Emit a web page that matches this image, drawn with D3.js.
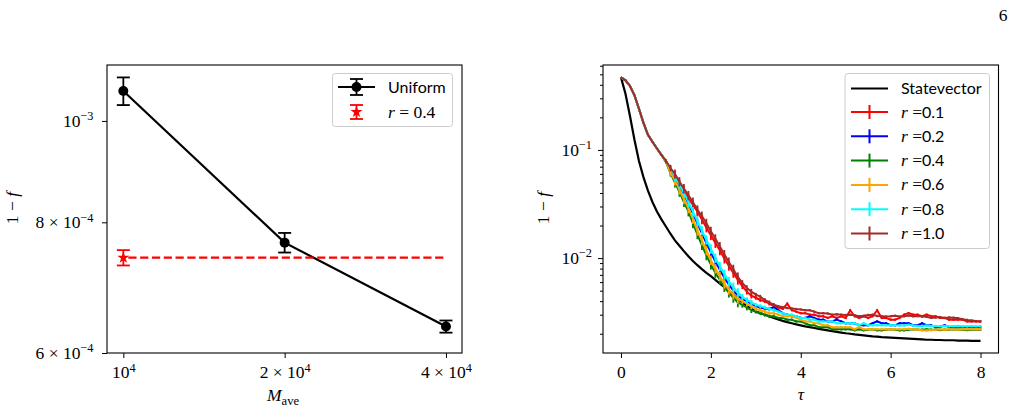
<!DOCTYPE html>
<html>
<head>
<meta charset="utf-8">
<script src="https://cdn.jsdelivr.net/npm/d3@7"></script>
<style>
  body { margin: 0; background: #fff; }
</style>
</head>
<body>
<svg id="chart" width="1017" height="409"></svg>
<script>
// ---- left panel data ----
const mAve = [1e4, 2e4, 4e4];
const uniformFid = [1.068e-3, 7.65e-4, 6.36e-4];
const uniformErr = [3.25e-5, 1.65e-5, 8.5e-6];
const r04X = [1e4];
const r04Fid = [7.40e-4];
const r04Err = [1.25e-5];
const r04LineX = [1e4, 4e4];

const xLeftTicks = [1e4, 2e4, 4e4];
const xLeftLabels = [['10', '4'], ['2 × 10', '4'], ['4 × 10', '4']];
const yLeftTicks = [6e-4, 8e-4, 1e-3];
const yLeftLabels = [['6 × 10', '−4'], ['8 × 10', '−4'], ['10', '−3']];

// ---- right panel data ----
const tau = [0, 0.1, 0.2, 0.3, 0.4, 0.5, 0.6, 0.7, 0.8, 0.9,
  1, 1.1, 1.2, 1.3, 1.4, 1.5, 1.6, 1.7, 1.8, 1.9,
  2, 2.1, 2.2, 2.3, 2.4, 2.5, 2.6, 2.7, 2.8, 2.9,
  3, 3.1, 3.2, 3.3, 3.4, 3.5, 3.6, 3.7, 3.8, 3.9,
  4, 4.1, 4.2, 4.3, 4.4, 4.5, 4.6, 4.7, 4.8, 4.9,
  5, 5.1, 5.2, 5.3, 5.4, 5.5, 5.6, 5.7, 5.8, 5.9,
  6, 6.1, 6.2, 6.3, 6.4, 6.5, 6.6, 6.7, 6.8, 6.9,
  7, 7.1, 7.2, 7.3, 7.4, 7.5, 7.6, 7.7, 7.8, 7.9, 8];

const stateVec = [0.468, 0.33, 0.206, 0.124, 0.079, 0.056, 0.042, 0.033, 0.027, 0.0228,
  0.0196, 0.0168, 0.0146, 0.0130, 0.0116, 0.0104, 0.0094, 0.0086, 0.0079, 0.0073,
  0.0068, 0.0063, 0.0058, 0.0054, 0.0050, 0.0046, 0.0042, 0.0039, 0.0036, 0.0034,
  0.0032, 0.0031, 0.0030, 0.0029, 0.0028, 0.00271, 0.00263, 0.00256, 0.0025, 0.00244,
  0.00239, 0.00234, 0.0023, 0.00226, 0.00222, 0.00218, 0.00215, 0.00211, 0.00208, 0.00205,
  0.00202, 0.002, 0.00197, 0.00195, 0.00193, 0.00191, 0.00189, 0.00188, 0.00186, 0.00185,
  0.00184, 0.00183, 0.00182, 0.00181, 0.0018, 0.00179, 0.00178, 0.00177, 0.00176, 0.00176,
  0.00175, 0.00175, 0.00174, 0.00174, 0.00174, 0.00173, 0.00173, 0.00173, 0.00172, 0.00172, 0.00172];

const r01 = [0.468, 0.44, 0.39, 0.32, 0.24, 0.178, 0.138, 0.119, 0.103, 0.090,
  0.079, 0.067, 0.058, 0.049, 0.042, 0.036, 0.031, 0.027, 0.0228, 0.0192,
  0.0163, 0.0138, 0.0118, 0.0099, 0.0085, 0.0073, 0.0063, 0.0055, 0.0049, 0.0045,
  0.0043, 0.0041, 0.0040, 0.0038, 0.0036, 0.0035, 0.0034, 0.0038, 0.0033, 0.0032,
  0.0031, 0.0031, 0.0030, 0.0030, 0.0029, 0.0029, 0.0028, 0.0029, 0.0028, 0.0029,
  0.0028, 0.0033, 0.0029, 0.0028, 0.0029, 0.0028, 0.0029, 0.0033, 0.0028, 0.0028,
  0.0027, 0.0027, 0.0028, 0.0030, 0.0031, 0.0030, 0.0030, 0.0029, 0.0030, 0.0029,
  0.0029, 0.0028, 0.0028, 0.0027, 0.0027, 0.0027, 0.0027, 0.0026, 0.0026, 0.0026, 0.0026];

const r02 = [0.468, 0.44, 0.39, 0.32, 0.24, 0.178, 0.138, 0.119, 0.103, 0.090,
  0.079, 0.066, 0.056, 0.047, 0.039, 0.032, 0.026, 0.021, 0.017, 0.0138,
  0.0113, 0.0093, 0.0078, 0.0066, 0.0057, 0.0050, 0.0045, 0.0042, 0.0040, 0.0038,
  0.0036, 0.0035, 0.0034, 0.0034, 0.0035, 0.0033, 0.0031, 0.0030, 0.0029, 0.0029,
  0.0028, 0.0028, 0.0029, 0.0028, 0.0027, 0.0027, 0.0026, 0.0026, 0.0027, 0.0026,
  0.0025, 0.0025, 0.0025, 0.0024, 0.0024, 0.0024, 0.0025, 0.0026, 0.0025, 0.0025,
  0.0024, 0.0024, 0.0025, 0.0025, 0.0025, 0.0024, 0.0024, 0.0025, 0.0024, 0.0024,
  0.0023, 0.0023, 0.0024, 0.0023, 0.0023, 0.0023, 0.0023, 0.0023, 0.0023, 0.0023, 0.0023];

const r04 = [0.468, 0.44, 0.39, 0.32, 0.24, 0.178, 0.138, 0.119, 0.103, 0.090,
  0.077, 0.061, 0.050, 0.041, 0.033, 0.027, 0.021, 0.0166, 0.0132, 0.0106,
  0.0087, 0.0073, 0.0063, 0.0054, 0.0048, 0.0043, 0.0039, 0.0037, 0.0035, 0.0033,
  0.0032, 0.0031, 0.0030, 0.0029, 0.0029, 0.0028, 0.0028, 0.0027, 0.0027, 0.0026,
  0.0026, 0.0025, 0.0024, 0.0024, 0.0023, 0.0023, 0.0023, 0.0022, 0.0022, 0.0022,
  0.0022, 0.0022, 0.00215, 0.0022, 0.00215, 0.00218, 0.0022, 0.00215, 0.00215, 0.00218,
  0.0022, 0.00218, 0.00215, 0.00215, 0.00218, 0.0022, 0.00218, 0.00218, 0.0022, 0.00218,
  0.00218, 0.00216, 0.00218, 0.00218, 0.0022, 0.00218, 0.00218, 0.00216, 0.00218, 0.00218, 0.00218];

const r06 = [0.468, 0.44, 0.39, 0.32, 0.24, 0.178, 0.138, 0.119, 0.103, 0.090,
  0.078, 0.062, 0.052, 0.043, 0.035, 0.029, 0.023, 0.018, 0.0146, 0.0118,
  0.0096, 0.0080, 0.0068, 0.0058, 0.0051, 0.0046, 0.0042, 0.0040, 0.0038, 0.0036,
  0.0034, 0.0033, 0.0032, 0.0031, 0.0031, 0.0030, 0.0029, 0.0029, 0.0029, 0.0028,
  0.0027, 0.0026, 0.0026, 0.0025, 0.0025, 0.0024, 0.0024, 0.0023, 0.0023, 0.0023,
  0.0023, 0.0023, 0.0022, 0.0023, 0.0022, 0.0022, 0.0022, 0.0022, 0.0022, 0.0022,
  0.0022, 0.0022, 0.0022, 0.0022, 0.00222, 0.0022, 0.00218, 0.00215, 0.00214, 0.00216,
  0.00218, 0.0022, 0.00218, 0.0022, 0.0022, 0.00218, 0.0022, 0.00221, 0.0022, 0.0022, 0.0022];

const r08 = [0.468, 0.44, 0.39, 0.32, 0.24, 0.178, 0.138, 0.119, 0.103, 0.090,
  0.079, 0.067, 0.057, 0.048, 0.040, 0.033, 0.027, 0.022, 0.018, 0.0148,
  0.0122, 0.0100, 0.0084, 0.0071, 0.0061, 0.0054, 0.0048, 0.0044, 0.0041, 0.0039,
  0.0037, 0.0036, 0.0035, 0.0034, 0.0033, 0.0032, 0.0031, 0.0030, 0.0030, 0.0029,
  0.0028, 0.0028, 0.0027, 0.0027, 0.0026, 0.0026, 0.0026, 0.0026, 0.0025, 0.0025,
  0.0025, 0.0025, 0.0025, 0.0024, 0.0025, 0.0024, 0.0024, 0.0024, 0.0024, 0.0024,
  0.0024, 0.0024, 0.00238, 0.00238, 0.00242, 0.00238, 0.00236, 0.00236, 0.00238, 0.00236,
  0.00236, 0.00235, 0.00236, 0.00234, 0.00235, 0.00236, 0.00234, 0.00234, 0.00235, 0.00234, 0.00234];

const r10 = [0.468, 0.44, 0.39, 0.32, 0.24, 0.178, 0.138, 0.119, 0.103, 0.090,
  0.079, 0.068, 0.060, 0.051, 0.044, 0.038, 0.033, 0.028, 0.0245, 0.021,
  0.0177, 0.0151, 0.0128, 0.0108, 0.0092, 0.0079, 0.0067, 0.0059, 0.0053, 0.0049,
  0.0046, 0.0044, 0.0041, 0.0039, 0.0037, 0.0036, 0.00352, 0.00346, 0.00342, 0.00338,
  0.00335, 0.0033, 0.0033, 0.0032, 0.0031, 0.0031, 0.00308, 0.0030, 0.00302, 0.0030,
  0.00298, 0.0030, 0.00296, 0.0029, 0.00293, 0.00298, 0.0030, 0.00292, 0.0029, 0.00288,
  0.0029, 0.00293, 0.00288, 0.0029, 0.00295, 0.0029, 0.00292, 0.00288, 0.00287, 0.0028,
  0.00282, 0.00285, 0.0028, 0.00283, 0.00281, 0.00278, 0.00272, 0.00268, 0.00265, 0.00262, 0.0026];

// relative error bar half-size, starting at the given tau
const errSteps = [[0, 0.01], [1.0, 0.04], [1.1, 0.07], [1.2, 0.1], [2.7, 0.06], [3.0, 0.04], [3.5, 0.025]];

const rNames = ['0.1', '0.2', '0.4', '0.6', '0.8', '1.0'];
const rColors = ['#ff0000', '#0000ff', '#008000', '#ffa500', '#00ffff', '#a52a2a'];
const rSeries = [r01, r02, r04, r06, r08, r10];

const xRightTicks = [0, 2, 4, 6, 8];
const yRightTicks = [1e-2, 1e-1];
const yRightLabels = [['10', '−2'], ['10', '−1']];
const yRightMinor = [2e-3, 3e-3, 4e-3, 5e-3, 6e-3, 7e-3, 8e-3, 9e-3,
  2e-2, 3e-2, 4e-2, 5e-2, 6e-2, 7e-2, 8e-2, 9e-2, 2e-1, 3e-1, 4e-1, 5e-1, 6e-1];

const serif = '"Liberation Serif", "DejaVu Serif", serif';
const sans = 'Lato, "DejaVu Sans", sans-serif';

const svg = d3.select('#chart');

function supText(text, parts) {
    text.text(null);
    text.append('tspan').text(parts[0]);
    text.append('tspan').attr('font-size', '0.7em').attr('dy', '-0.55em').text(parts[1]);
}

function styleAxis(g, size) {
    g.select('.domain').remove();
    g.selectAll('.tick line').attr('stroke', '#000').attr('stroke-width', 1);
    g.selectAll('.tick text').attr('font-family', serif).attr('font-size', size).attr('fill', '#000');
}

// ================= left panel =================
const L = {left: 107, right: 462, top: 65, bottom: 353};
const xL = d3.scaleLog().domain([9322, 42855]).range([L.left, L.right]);
const yL = d3.scaleLog().domain([6e-4, 1.131e-3]).range([L.bottom, L.top]);

const gxL = svg.append('g').attr('transform', `translate(0,${L.bottom})`)
    .call(d3.axisBottom(xL).tickValues(xLeftTicks).tickSize(5).tickPadding(8).tickSizeOuter(0));
styleAxis(gxL, 17.5);
gxL.selectAll('.tick text').each(function(d, i) { supText(d3.select(this), xLeftLabels[i]); });

const gyL = svg.append('g').attr('transform', `translate(${L.left},0)`)
    .call(d3.axisLeft(yL).tickValues(yLeftTicks).tickSize(5).tickPadding(8.5).tickSizeOuter(0));
styleAxis(gyL, 17.5);
gyL.selectAll('.tick text').each(function(d, i) { supText(d3.select(this), yLeftLabels[i]); });

// uniform: line + error bars + circles
const uni = mAve.map((m, i) => ({x: m, y: uniformFid[i], e: uniformErr[i]}));
svg.append('path').datum(uni)
    .attr('d', d3.line().x(d => xL(d.x)).y(d => yL(d.y)))
    .attr('fill', 'none').attr('stroke', '#000').attr('stroke-width', 2.2);

function errBars(data, xs, ys, color, cap) {
    const g = svg.append('g').attr('stroke', color).attr('stroke-width', 1.8);
    data.forEach(d => {
        const x = xs(d.x), y0 = ys(d.y - d.e), y1 = ys(d.y + d.e);
        g.append('line').attr('x1', x).attr('x2', x).attr('y1', y0).attr('y2', y1);
        g.append('line').attr('x1', x - cap).attr('x2', x + cap).attr('y1', y0).attr('y2', y0);
        g.append('line').attr('x1', x - cap).attr('x2', x + cap).attr('y1', y1).attr('y2', y1);
    });
}
errBars(uni, xL, yL, '#000', 6.5);
svg.selectAll('.uniDot').data(uni).enter().append('circle')
    .attr('cx', d => xL(d.x)).attr('cy', d => yL(d.y)).attr('r', 5).attr('fill', '#000');

// r = 0.4 point and dashed reference line
const rPt = r04X.map((m, i) => ({x: m, y: r04Fid[i], e: r04Err[i]}));
svg.append('path').datum(r04LineX)
    .attr('d', d3.line().x(d => xL(d)).y(() => yL(r04Fid[0])))
    .attr('fill', 'none').attr('stroke', '#ff0000').attr('stroke-width', 2.2)
    .attr('stroke-dasharray', '8.2,3.6').attr('stroke-dashoffset', -5);
errBars(rPt, xL, yL, '#ff0000', 6.5);
svg.selectAll('.rStar').data(rPt).enter().append('path')
    .attr('d', d3.symbol().type(d3.symbolStar).size(45))
    .attr('transform', d => `translate(${xL(d.x)},${yL(d.y)})`).attr('fill', '#ff0000');

svg.append('rect').attr('x', L.left).attr('y', L.top)
    .attr('width', L.right - L.left).attr('height', L.bottom - L.top)
    .attr('fill', 'none').attr('stroke', '#000').attr('stroke-width', 1.1);

// left legend
const legL = svg.append('g');
legL.append('rect').attr('x', 332.5).attr('y', 73.5).attr('width', 120).attr('height', 53)
    .attr('rx', 3).attr('fill', '#fff').attr('fill-opacity', 0.8).attr('stroke', '#cccccc');
legL.append('line').attr('x1', 338).attr('x2', 375).attr('y1', 87).attr('y2', 87)
    .attr('stroke', '#000').attr('stroke-width', 2.2);
errBars([{x: 356.5, y: 87, e: 8}], d => d, d => d, '#000', 6.5);
legL.append('circle').attr('cx', 356.5).attr('cy', 87).attr('r', 5).attr('fill', '#000');
legL.append('text').attr('x', 388).attr('y', 92.5).attr('font-family', sans).attr('font-size', 16).text('Uniform');
errBars([{x: 356.5, y: 112, e: 7}], d => d, d => d, '#ff0000', 6.5);
legL.append('path').attr('d', d3.symbol().type(d3.symbolStar).size(45)())
    .attr('transform', 'translate(356.5,112)').attr('fill', '#ff0000');
const lt = legL.append('text').attr('x', 388).attr('y', 117.5).attr('font-family', serif).attr('font-size', 17.5);
lt.append('tspan').attr('font-style', 'italic').text('r');
lt.append('tspan').text(' = 0.4');

// left axis labels
const yLab = svg.append('text').attr('transform', 'translate(18,208) rotate(-90)')
    .attr('text-anchor', 'middle').attr('font-family', serif).attr('font-size', 17.5);
yLab.append('tspan').text('1 − ');
yLab.append('tspan').attr('font-style', 'italic').text('f');

const xLab = svg.append('text').attr('x', 283).attr('y', 401).attr('text-anchor', 'middle')
    .attr('font-family', serif).attr('font-size', 17.5);
xLab.append('tspan').attr('font-style', 'italic').text('M');
xLab.append('tspan').attr('font-size', '0.72em').attr('dy', '0.3em').text('ave');

// ================= right panel =================
const R = {left: 603, right: 998.5, top: 65, bottom: 353};
const xR = d3.scaleLinear().domain([-0.4, 8.4]).range([R.left, R.right]);
const yR = d3.scaleLog().domain([1.327e-3, 0.6095]).range([R.bottom, R.top]);

const gxR = svg.append('g').attr('transform', `translate(0,${R.bottom})`)
    .call(d3.axisBottom(xR).tickValues(xRightTicks).tickSize(5).tickPadding(8).tickFormat(d3.format('d')));
styleAxis(gxR, 17.5);

const gyR = svg.append('g').attr('transform', `translate(${R.left},0)`)
    .call(d3.axisLeft(yR).tickValues(yRightTicks).tickSize(5).tickPadding(6));
styleAxis(gyR, 17.5);
gyR.selectAll('.tick text').each(function(d, i) { supText(d3.select(this), yRightLabels[i]); });

const gyRm = svg.append('g').attr('transform', `translate(${R.left},0)`)
    .call(d3.axisLeft(yR).tickValues(yRightMinor).tickSize(3).tickFormat(''));
styleAxis(gyRm, 17.5);

const lineR = d3.line().x(d => xR(d.t)).y(d => yR(d.v));

function errFrac(t) {
    let f = errSteps[0][1];
    errSteps.forEach(s => { if (t >= s[0] - 1e-9) f = s[1]; });
    return f;
}

// statevector
svg.append('path').datum(tau.map((t, i) => ({t: t, v: stateVec[i]})))
    .attr('d', lineR).attr('fill', 'none').attr('stroke', '#000').attr('stroke-width', 2.2);

rSeries.forEach((vals, k) => {
    const pts = tau.map((t, i) => ({t: t, v: vals[i]}));
    const g = svg.append('g');
    g.append('path').datum(pts).attr('d', lineR)
        .attr('fill', 'none').attr('stroke', rColors[k]).attr('stroke-width', 2);
    g.selectAll('line').data(pts).enter().append('line')
        .attr('x1', d => xR(d.t)).attr('x2', d => xR(d.t))
        .attr('y1', d => yR(d.v * (1 - errFrac(d.t))))
        .attr('y2', d => yR(d.v * (1 + errFrac(d.t))))
        .attr('stroke', rColors[k]).attr('stroke-width', 1.8);
});

svg.append('rect').attr('x', R.left).attr('y', R.top)
    .attr('width', R.right - R.left).attr('height', R.bottom - R.top)
    .attr('fill', 'none').attr('stroke', '#000').attr('stroke-width', 1.1);

// right legend
const legR = svg.append('g');
legR.append('rect').attr('x', 845).attr('y', 73.5).attr('width', 144.5).attr('height', 175)
    .attr('rx', 3).attr('fill', '#fff').attr('fill-opacity', 0.8).attr('stroke', '#cccccc');
const rowY = [88.5, 112, 136.3, 160.6, 184.9, 209.2, 233.5];
legR.append('line').attr('x1', 851).attr('x2', 888).attr('y1', rowY[0]).attr('y2', rowY[0])
    .attr('stroke', '#000').attr('stroke-width', 2.2);
legR.append('text').attr('x', 901).attr('y', rowY[0] + 5.5)
    .attr('font-family', sans).attr('font-size', 16).text('Statevector');
rNames.forEach((nm, k) => {
    const y = rowY[k + 1];
    legR.append('line').attr('x1', 851).attr('x2', 888).attr('y1', y).attr('y2', y)
        .attr('stroke', rColors[k]).attr('stroke-width', 2);
    legR.append('line').attr('x1', 869.5).attr('x2', 869.5).attr('y1', y - 7).attr('y2', y + 7)
        .attr('stroke', rColors[k]).attr('stroke-width', 2);
    const t = legR.append('text').attr('x', 901).attr('y', y + 5.5).attr('font-size', 17.5);
    t.append('tspan').attr('font-family', serif).attr('font-style', 'italic').text('r');
    t.append('tspan').attr('font-family', serif).text(' =');
    t.append('tspan').attr('font-family', sans).attr('font-size', 16).text(nm);
});

// right axis labels
const yLabR = svg.append('text').attr('transform', 'translate(549,208) rotate(-90)')
    .attr('text-anchor', 'middle').attr('font-family', serif).attr('font-size', 17.5);
yLabR.append('tspan').text('1 − ');
yLabR.append('tspan').attr('font-style', 'italic').text('f');

svg.append('text').attr('x', 801).attr('y', 400).attr('text-anchor', 'middle')
    .attr('font-family', serif).attr('font-style', 'italic').attr('font-size', 17.5).text('τ');

// page number
svg.append('text').attr('x', 1003).attr('y', 21).attr('text-anchor', 'middle')
    .attr('font-family', serif).attr('font-size', 17.5).text('6');
</script>
</body>
</html>
